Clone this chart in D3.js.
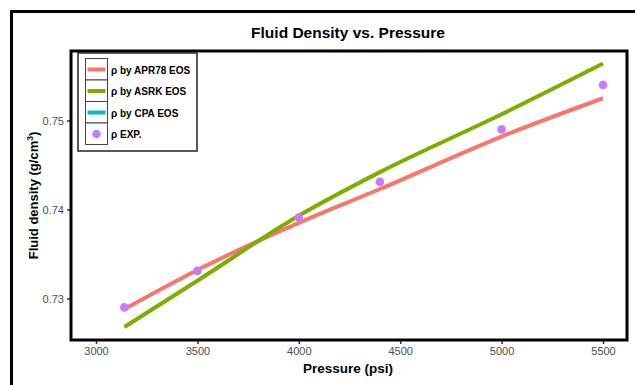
<!DOCTYPE html>
<html><head><meta charset="utf-8">
<script src="https://cdn.jsdelivr.net/npm/d3@7"></script>
<style>body{margin:0;background:#fff}svg{display:block;font-family:Arial,"Liberation Sans",sans-serif}</style>
</head><body>
<svg id="c" width="635" height="385"></svg>
<script>
const pressure = [3140, 3500, 4000, 4400, 5000, 5500];
const apr78 = [0.7288, 0.7332, 0.7385, 0.7423, 0.7482, 0.7525];
const asrk  = [0.7268, 0.7320, 0.7393, 0.7442, 0.7507, 0.7564];
const cpa   = [];
const expData = [0.7290, 0.7331, 0.7391, 0.7431, 0.7490, 0.7540];
const xTicks = [3000, 3500, 4000, 4500, 5000, 5500];
const yTicks = [0.73, 0.74, 0.75];
const legendLabels = ["ρ by APR78 EOS", "ρ by ASRK EOS", "ρ by CPA EOS", "ρ EXP."];
const colors = ["#F8766D", "#7CAE00", "#00BFC4", "#C77CFF"];

const svg = d3.select("#c");
svg.append("rect").attr("x", 11.5).attr("y", 11.5).attr("width", 700).attr("height", 500)
  .attr("fill", "none").attr("stroke", "#000").attr("stroke-width", 3);

const L = 71, R = 627, T = 51, B = 340;
const x = d3.scaleLinear().domain([3000, 5500]).range([96, 603]);
const y = d3.scaleLinear().domain([0.73, 0.75]).range([298.5, 120.5]);

svg.append("text").attr("x", 348).attr("y", 38).attr("text-anchor", "middle")
  .attr("font-weight", "bold").attr("font-size", 15.5).attr("fill", "#000").text("Fluid Density vs. Pressure");

const gx = svg.append("g").attr("transform", `translate(0,${B})`)
  .call(d3.axisBottom(x).tickValues(xTicks).tickSize(4).tickPadding(3).tickFormat(d3.format("d")));
gx.select(".domain").remove();
gx.selectAll("text").attr("fill", "#4d4d4d").attr("font-size", 11).attr("font-family", "Arial, 'Liberation Sans', sans-serif");
gx.selectAll("line").attr("stroke", "#333").attr("stroke-width", 1.5);

const gy = svg.append("g").attr("transform", `translate(${L},0)`)
  .call(d3.axisLeft(y).tickValues(yTicks).tickSize(4).tickPadding(3).tickFormat(d3.format(".2f")));
gy.select(".domain").remove();
gy.selectAll("text").attr("fill", "#4d4d4d").attr("font-size", 11).attr("font-family", "Arial, 'Liberation Sans', sans-serif");
gy.selectAll("line").attr("stroke", "#333").attr("stroke-width", 1.5);

svg.append("text").attr("x", 348).attr("y", 373).attr("text-anchor", "middle")
  .attr("font-weight", "bold").attr("font-size", 13.5).text("Pressure (psi)");
const yl = svg.append("text").attr("transform", `translate(38,${(T + B) / 2}) rotate(-90)`)
  .attr("text-anchor", "middle").attr("font-weight", "bold").attr("font-size", 13);
yl.append("tspan").text("Fluid density (g/cm");
yl.append("tspan").attr("font-size", 8.5).attr("dy", -5).text("3");
yl.append("tspan").attr("dy", 5).text(")");

const line = d3.line().x(d => x(d[0])).y(d => y(d[1])).curve(d3.curveMonotoneX);
const series = [apr78, asrk, cpa];
[0, 2, 1].forEach(i => {
  const s = series[i];
  if (!s.length) return;
  svg.append("path").datum(s.map((v, j) => [pressure[j], v]))
    .attr("d", line).attr("fill", "none").attr("stroke", colors[i]).attr("stroke-width", 4);
});
svg.selectAll("circle.pt").data(expData).enter().append("circle").attr("class", "pt")
  .attr("cx", (d, i) => x(pressure[i])).attr("cy", d => y(d)).attr("r", 4.3).attr("fill", colors[3]);

svg.append("rect").attr("x", L).attr("y", T).attr("width", R - L).attr("height", B - T)
  .attr("fill", "none").attr("stroke", "#000").attr("stroke-width", 3);

const lg = svg.append("g");
lg.append("rect").attr("x", 78).attr("y", 53).attr("width", 119).attr("height", 98)
  .attr("fill", "#fff").attr("stroke", "#222").attr("stroke-width", 1.5);
const rowY = [58.5, 80, 101.5, 123];
legendLabels.forEach((lab, i) => {
  const ry = rowY[i];
  lg.append("rect").attr("x", 85.5).attr("y", ry).attr("width", 22).attr("height", 21.5)
    .attr("fill", "#fff").attr("stroke", "#444").attr("stroke-width", 1);
  if (i < 3) {
    lg.append("line").attr("x1", 87.5).attr("x2", 105.5).attr("y1", ry + 11).attr("y2", ry + 11)
      .attr("stroke", colors[i]).attr("stroke-width", 4);
  } else {
    lg.append("circle").attr("cx", 96.5).attr("cy", ry + 11).attr("r", 4.3).attr("fill", colors[i]);
  }
  lg.append("text").attr("x", 111).attr("y", ry + 15).attr("font-size", 10).attr("font-weight", "bold").text(lab);
});
</script>
</body></html>
